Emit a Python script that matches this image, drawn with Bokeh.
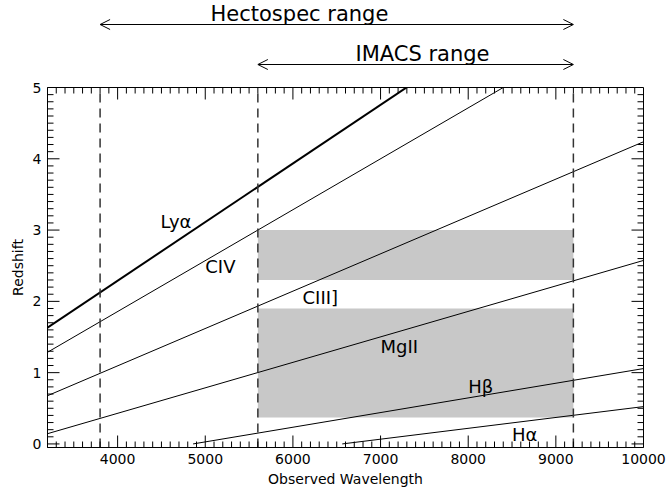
import math
from bokeh.plotting import figure
from bokeh.layouts import column
from bokeh.models import (Range1d, FixedTicker, LinearAxis, Arrow, OpenHead,
                          ColumnDataSource)
from bokeh.core.properties import value
from bokeh.embed import file_html
from bokeh.resources import INLINE

FONT = "DejaVu Sans"

# Emission lines: rest-frame wavelengths (Angstrom)
line_names = ["Lyα", "CIV", "CIII]", "MgII", "Hβ", "Hα"]
rest_wave = [1216.0, 1400.0, 1909.0, 2798.0, 4861.0, 6563.0]
line_widths = [2.0, 1.0, 1.0, 1.0, 1.0, 1.0]

# Where each line name is written (wavelength, redshift)
label_wave = [4490, 5000, 6110, 7000, 8000, 8500]
label_z = [3.12, 2.49, 2.06, 1.37, 0.80, 0.13]

# Spectrograph coverage (Angstrom)
hecto_range = [3800, 9200]
imacs_range = [5600, 9200]

# Shaded redshift windows inside the IMACS coverage
band_z_low = [2.30, 0.37]
band_z_high = [3.00, 1.90]

wave_min, wave_max = 3200, 10000
z_min, z_max = -0.05, 5.0

x_ticks = [4000, 5000, 6000, 7000, 8000, 9000, 10000]
x_minor = list(range(3200, 10001, 100))
y_ticks = [0, 1, 2, 3, 4, 5]
y_minor = [round(0.1 * i, 1) for i in range(0, 51)]

FRAME_W, FRAME_H = 596, 360
MAJOR_LEN, MINOR_LEN = 12, 6  # tick lengths in pixels, drawn inside the frame

x_range = Range1d(wave_min, wave_max)

# ---- main panel ----
p = figure(frame_width=FRAME_W, frame_height=FRAME_H, x_range=x_range,
           y_range=Range1d(z_min, z_max), output_backend="svg",
           toolbar_location=None, x_axis_location=None, y_axis_location=None,
           min_border_left=47, min_border_right=23, min_border_top=8,
           min_border_bottom=40)
p.grid.visible = False
p.outline_line_color = "black"
p.outline_line_width = 1
p.background_fill_color = "white"
p.border_fill_color = "white"


def make_axis(ticks, label):
    ax = LinearAxis(ticker=FixedTicker(ticks=ticks, minor_ticks=[]))
    ax.major_tick_in = 0
    ax.major_tick_out = 0
    ax.minor_tick_in = 0
    ax.minor_tick_out = 0
    ax.axis_line_color = "black"
    ax.major_label_text_font = FONT
    ax.major_label_text_font_size = "14px"
    ax.major_label_text_color = "black"
    ax.major_label_standoff = 6
    ax.axis_label = label
    ax.axis_label_text_font = FONT
    ax.axis_label_text_font_size = "14px"
    ax.axis_label_text_font_style = "normal"
    ax.axis_label_text_color = "black"
    ax.axis_label_standoff = 4
    return ax


p.add_layout(make_axis(x_ticks, "Observed Wavelength"), "below")
p.add_layout(make_axis(y_ticks, "Redshift"), "left")

# shaded redshift windows
p.quad(left=[imacs_range[0]] * len(band_z_low), right=[imacs_range[1]] * len(band_z_low),
       bottom=band_z_low, top=band_z_high, fill_color="#c8c8c8", line_color=None)

# redshift of each line versus observed wavelength: z = lambda_obs / lambda_rest - 1
x0 = [max(wave_min, r) for r in rest_wave]
y0 = [a / r - 1 for a, r in zip(x0, rest_wave)]
x1 = [wave_max] * len(rest_wave)
y1 = [wave_max / r - 1 for r in rest_wave]
seg = ColumnDataSource(dict(x0=x0, y0=y0, x1=x1, y1=y1, w=line_widths))
p.segment(x0="x0", y0="y0", x1="x1", y1="y1", line_width="w",
          line_color="black", source=seg)

# coverage limits
edges = sorted(set(hecto_range + imacs_range))
p.segment(x0=edges, y0=[z_min] * len(edges), x1=edges, y1=[z_max] * len(edges),
          line_color="#333333", line_width=1.5, line_dash="9 6")

# inward tick marks on all four sides, drawn as dash markers centred
# half a tick length inside the frame edge
dx = (wave_max - wave_min) / FRAME_W   # data units per pixel, x
dy = (z_max - z_min) / FRAME_H         # data units per pixel, y
mx, my, msize, mangle = [], [], [], []
for xv in x_minor:
    if xv <= wave_min or xv >= wave_max:
        continue
    n = MAJOR_LEN if xv in x_ticks else MINOR_LEN
    for yc in (z_min + 0.5 * n * dy, z_max - 0.5 * n * dy):
        mx.append(float(xv))
        my.append(yc)
        msize.append(n)
        mangle.append(math.pi / 2)
for yv in y_minor:
    n = MAJOR_LEN if yv in y_ticks else MINOR_LEN
    for xc in (wave_min + 0.5 * n * dx, wave_max - 0.5 * n * dx):
        mx.append(xc)
        my.append(float(yv))
        msize.append(n)
        mangle.append(0.0)
tick_src = ColumnDataSource(dict(x=mx, y=my, s=msize, a=mangle))
p.scatter(x="x", y="y", size="s", angle="a", marker="dash", source=tick_src,
          line_color="black", line_width=1)

lab = ColumnDataSource(dict(x=label_wave, y=label_z, t=line_names))
p.text(x="x", y="y", text="t", source=lab, text_font=value(FONT),
       text_font_size="18px", text_color="black", text_baseline="middle",
       text_align="left")

# ---- coverage arrows above the panel ----
top = figure(frame_width=FRAME_W, frame_height=79, x_range=x_range,
             y_range=Range1d(79, 0), output_backend="svg", toolbar_location=None,
             x_axis_location=None, y_axis_location=None,
             min_border_left=47, min_border_right=23, min_border_top=0,
             min_border_bottom=0)
top.grid.visible = False
top.outline_line_color = None
top.border_fill_color = "white"

for (a, b), yy, name, tx, ty in [(hecto_range, 24, "Hectospec range", 5060, 13),
                                  (imacs_range, 64, "IMACS range", 6714, 53)]:
    top.add_layout(Arrow(x_start=a, x_end=b, y_start=yy, y_end=yy,
                         line_color="black", line_width=1,
                         start=OpenHead(size=10, line_color="black", line_width=1),
                         end=OpenHead(size=10, line_color="black", line_width=1)))
    top.text(x=[tx], y=[ty], text=[name], text_font=value(FONT),
             text_font_size="21px", text_color="black",
             text_baseline="middle", text_align="left")

layout = column(top, p, spacing=0)
open("out.html", "w").write(file_html(layout, INLINE))
